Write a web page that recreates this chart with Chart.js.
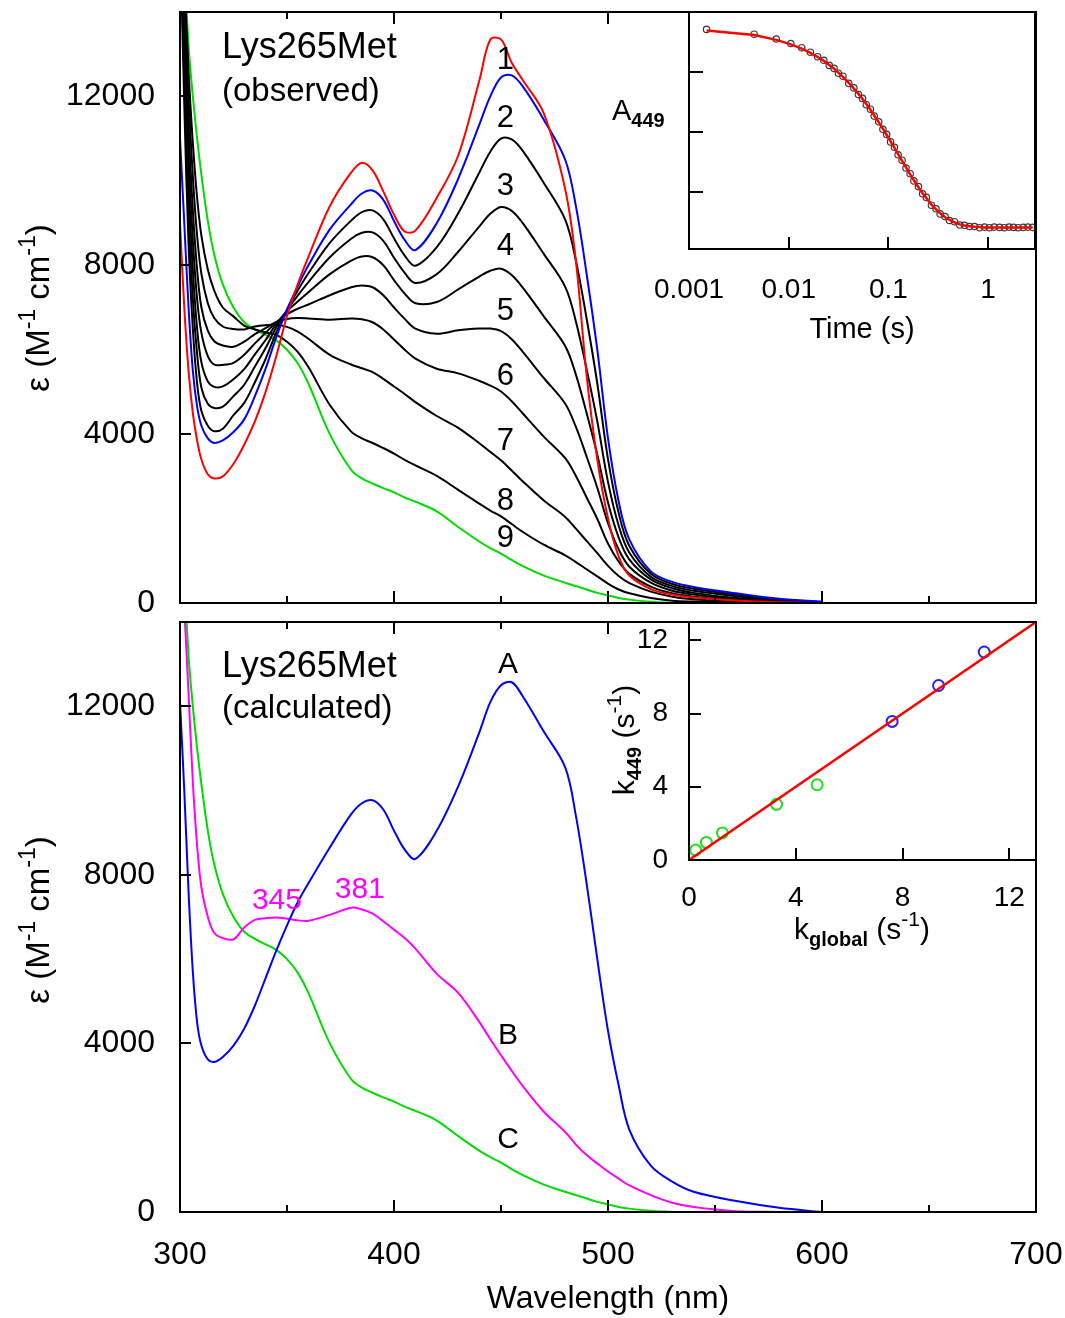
<!DOCTYPE html>
<html>
<head>
<meta charset="utf-8">
<script src="https://cdn.jsdelivr.net/npm/chart.js@4.4.1/dist/chart.umd.min.js"></script>
<style>
  body { margin: 0; background: #fff; }
  #wrap { position: relative; width: 1065px; height: 1318px; }
  canvas { position: absolute; }
</style>
</head>
<body>
<div id="wrap">
  <canvas id="topChart" width="1065" height="640" style="left:0;top:0;width:1065px;height:640px"></canvas>
  <canvas id="bottomChart" width="1065" height="713" style="left:0;top:605px;width:1065px;height:713px"></canvas>
  <canvas id="kineticsChart" width="505" height="360" style="left:560px;top:0;width:505px;height:360px"></canvas>
  <canvas id="rateChart" width="505" height="360" style="left:560px;top:605px;width:505px;height:360px"></canvas>
</div>
<script>
const FONT = '"Liberation Sans", Arial, Helvetica, sans-serif';
const RED = "#ff0000", BLUE = "#0000ff", GREEN = "#00dc00", MAGENTA = "#ff00ff", BLACK = "#000000";

// wavelength grid (nm), shared by every spectrum
const wavelength = [300, 302, 304, 306, 308, 310, 313, 316, 320, 325, 330, 335, 340, 345, 350, 355, 360, 370, 380, 385, 390, 395, 400, 405, 410, 420, 430, 440, 445, 450, 455, 460, 470, 480, 485, 490, 495, 500, 505, 510, 520, 530, 540, 560, 580, 600, 650, 700];

// observed spectra (top panel), epsilon in M-1 cm-1
const observedRed = [9000, 7000, 5500, 4500, 3850, 3400, 3050, 2950, 3000, 3300, 3750, 4300, 5000, 5850, 6800, 7550, 8200, 9400, 10200, 10430, 10250, 9750, 9200, 8800, 8820, 9600, 10600, 12400, 13350, 13350, 12800, 12400, 11600, 9800, 8100, 5400, 3400, 2000, 1100, 650, 330, 200, 130, 60, 20, 0, 0, 0];
const observedBlue = [11000, 9000, 7000, 5500, 4650, 4200, 3900, 3790, 3850, 4050, 4350, 4900, 5550, 6300, 6950, 7500, 8000, 8850, 9450, 9700, 9770, 9550, 9050, 8600, 8360, 9000, 10050, 11350, 12000, 12450, 12500, 12250, 11450, 10500, 9400, 7800, 6000, 3900, 2400, 1500, 750, 500, 380, 230, 100, 30, null, null];
const mid1 = [16000, 11800, 8500, 6500, 5200, 4550, 4200, 4070, 4130, 4450, 4740, 5230, 5780, 6410, 6950, 7400, 7810, 8530, 9060, 9260, 9300, 9090, 8640, 8230, 7990, 8430, 9230, 10210, 10690, 11000, 10980, 10720, 9950, 9080, 8110, 6740, 5200, 3410, 2130, 1350, 690, 450, 340, 200, 85, 25, null, null];
const mid2 = [16500, 12400, 9300, 7200, 5900, 5100, 4720, 4620, 4650, 4900, 5170, 5600, 6040, 6530, 6940, 7280, 7600, 8190, 8630, 8770, 8780, 8580, 8180, 7820, 7580, 7790, 8320, 8930, 9220, 9380, 9290, 9010, 8270, 7490, 6670, 5540, 4300, 2870, 1830, 1190, 620, 400, 290, 160, 65, 20, null, null];
const mid3 = [17000, 13000, 10000, 7900, 6500, 5700, 5250, 5120, 5130, 5300, 5540, 5890, 6230, 6610, 6910, 7140, 7360, 7790, 8110, 8210, 8190, 8000, 7650, 7330, 7100, 7130, 7430, 7740, 7870, 7920, 7770, 7480, 6790, 6090, 5410, 4500, 3510, 2380, 1550, 1030, 560, 350, 240, 120, 50, 15, null, null];
const mid4 = [17000, 13500, 10600, 8600, 7200, 6400, 5850, 5650, 5640, 5690, 5880, 6150, 6400, 6650, 6840, 6970, 7070, 7290, 7480, 7520, 7480, 7290, 7000, 6730, 6500, 6380, 6460, 6500, 6500, 6440, 6250, 5960, 5330, 4720, 4170, 3470, 2730, 1890, 1270, 860, 480, 290, 200, 90, 35, 10, null, null];
const mid5 = [17500, 14000, 11300, 9300, 7900, 7000, 6450, 6200, 6100, 6070, 6190, 6370, 6510, 6660, 6730, 6750, 6740, 6710, 6740, 6720, 6650, 6480, 6240, 6000, 5790, 5550, 5440, 5260, 5150, 5010, 4780, 4500, 3940, 3430, 3010, 2500, 1990, 1410, 980, 690, 390, 230, 150, 60, 22, 7, null, null];
const mid6 = [18000, 14500, 12000, 10100, 8700, 7800, 7100, 6750, 6550, 6490, 6480, 6550, 6580, 6590, 6540, 6430, 6260, 5880, 5650, 5560, 5470, 5310, 5130, 4950, 4760, 4430, 4150, 3780, 3580, 3380, 3140, 2890, 2430, 2040, 1760, 1470, 1180, 880, 640, 470, 270, 150, 90, 30, 9, 3, null, null];
const mid7 = [18000, 15000, 12600, 10900, 9600, 8700, 7900, 7400, 7000, 6790, 6570, 6480, 6410, 6350, 6190, 5950, 5590, 4690, 4060, 3900, 3790, 3670, 3540, 3390, 3260, 3010, 2680, 2350, 2190, 2050, 1870, 1690, 1380, 1130, 970, 800, 630, 460, 320, 230, 120, 56, 35, 13, 4, 1, null, null];

// calculated spectra (bottom panel)
const specA = [12100, 10000, 7600, 5700, 4500, 3950, 3620, 3560, 3680, 3950, 4350, 4900, 5550, 6200, 6800, 7350, 7800, 8650, 9440, 9700, 9770, 9550, 9050, 8600, 8380, 9050, 10100, 11400, 12100, 12500, 12570, 12250, 11400, 10550, 9400, 7800, 6000, 4300, 3000, 1950, 1100, 720, 480, 260, 100, 0, null, null];
const specB = [16000, 14300, 12300, 10200, 8700, 7700, 7000, 6620, 6500, 6470, 6750, 6930, 6970, 6990, 6960, 6920, 6910, 7050, 7220, 7180, 7080, 6900, 6700, 6500, 6250, 5650, 5200, 4500, 4100, 3720, 3350, 3000, 2380, 1900, 1600, 1350, 1150, 960, 790, 630, 400, 220, 120, 20, 0, null, null, null];
const specC = [18000, 15200, 13200, 12000, 11000, 10150, 9050, 8250, 7550, 7000, 6650, 6480, 6350, 6220, 6000, 5680, 5200, 4000, 3150, 2950, 2830, 2720, 2620, 2500, 2400, 2170, 1800, 1450, 1300, 1170, 1020, 880, 650, 480, 400, 320, 240, 180, 120, 80, 30, 0, null, null, null, null, null, null];

// axis ticks
const wlMajor = [400, 500, 600];
const wlMinor = [350, 450, 550, 650];
const wlLabels = [300, 400, 500, 600, 700];
const epsTicks = [0, 4000, 8000, 12000];

// curve labels
const curveLabels = ["1", "2", "3", "4", "5", "6", "7", "8", "9"];
const curveLabelEps = [12850, 11480, 9870, 8450, 6910, 5370, 3830, 2410, 1540];
const curveLabelWl = 452;
const specLabels = ["A", "B", "C"];
const specLabelEps = [12995, 4190, 1704];
const peakLabels = ["345", "381"];
const peakLabelWl = [345.3, 384];
const peakLabelEps = [7385, 7645];

// inset: A449 vs time
const timeS = [0.0015, 0.0045, 0.0075, 0.0105, 0.0135, 0.0165, 0.0195, 0.0225, 0.0255, 0.0285, 0.0315, 0.035, 0.04, 0.045, 0.05, 0.055, 0.06, 0.066, 0.072, 0.08, 0.088, 0.096, 0.105, 0.115, 0.125, 0.137, 0.15, 0.165, 0.18, 0.2, 0.22, 0.24, 0.27, 0.3, 0.33, 0.37, 0.41, 0.46, 0.52, 0.58, 0.65, 0.73, 0.82, 0.92, 1.03, 1.15, 1.3, 1.45, 1.62, 1.8, 2.0, 2.25, 2.5, 2.8];
const a449Obs = [0.1342, 0.1326, 0.1310, 0.1295, 0.1281, 0.1266, 0.1251, 0.1239, 0.1222, 0.1212, 0.1196, 0.1186, 0.1162, 0.1147, 0.1125, 0.1112, 0.1091, 0.1076, 0.1053, 0.1034, 0.1009, 0.0992, 0.0967, 0.0949, 0.0924, 0.0906, 0.0880, 0.0861, 0.0837, 0.0818, 0.0794, 0.0782, 0.0756, 0.0744, 0.0727, 0.0718, 0.0705, 0.0701, 0.0690, 0.0689, 0.0685, 0.0685, 0.0681, 0.0683, 0.0681, 0.0683, 0.0682, 0.0681, 0.0683, 0.0682, 0.0681, 0.0682, 0.0683, 0.0682];
const a449Fit = [0.1338, 0.1323, 0.1307, 0.1292, 0.1278, 0.1264, 0.1250, 0.1237, 0.1223, 0.1211, 0.1198, 0.1184, 0.1164, 0.1145, 0.1127, 0.1110, 0.1093, 0.1074, 0.1055, 0.1032, 0.1011, 0.0990, 0.0969, 0.0947, 0.0926, 0.0904, 0.0882, 0.0859, 0.0839, 0.0816, 0.0796, 0.0780, 0.0758, 0.0742, 0.0729, 0.0716, 0.0707, 0.0699, 0.0692, 0.0688, 0.0686, 0.0684, 0.0683, 0.0682, 0.0682, 0.0682, 0.0682, 0.0682, 0.0682, 0.0682, 0.0682, 0.0682, 0.0682, 0.0682];
const timeTicks = [0.001, 0.01, 0.1, 1];
const a449Ticks = [0.08, 0.10, 0.12];

// inset: k449 vs kglobal
const kGlobalGreen = [0.25, 0.65, 1.25, 3.28, 4.80];
const k449Green = [0.54, 0.96, 1.48, 3.04, 4.11];
const kGlobalBlue = [7.61, 9.35, 11.06];
const k449Blue = [7.57, 9.53, 11.36];
const kFitX = [0, 13];
const kFitY = [0, 13];
const rateTicks = [0, 4, 8, 12];

const font = (size, bold) => (bold ? "bold " : "") + size + "px " + FONT;

// rich text: parts with own font and vertical shift (sub/superscripts)
const drawRich = (ctx, parts, x, y, align, rotate, color) => {
  ctx.save();
  ctx.translate(x, y);
  if (rotate) ctx.rotate(rotate);
  ctx.textBaseline = "middle";
  ctx.textAlign = "left";
  let w = 0;
  for (let p of parts) {
    ctx.font = p.f;
    w += ctx.measureText(p.t).width;
  }
  let cx = align === "left" ? 0 : -w / 2;
  for (let p of parts) {
    ctx.font = p.f;
    ctx.fillStyle = color;
    ctx.fillText(p.t, cx, p.dy || 0);
    cx += ctx.measureText(p.t).width;
  }
  ctx.restore();
};

// fixed axis size, no extra label overflow padding
const fixSize = (w, h) => (s) => {
  if (w !== null) s.width = w;
  if (h !== null) s.height = h;
  s.paddingTop = 0;
  s.paddingBottom = 0;
  s.paddingLeft = 0;
  s.paddingRight = 0;
};

// box round the plot area + inward tick marks
const framePlugin = {
  id: "frame",
  beforeDraw(chart, args, o) {
    if (!o.white) return;
    const a = chart.chartArea;
    chart.ctx.save();
    chart.ctx.fillStyle = "#fff";
    chart.ctx.fillRect(a.left, a.top, a.right - a.left, a.bottom - a.top);
    chart.ctx.restore();
  },
  afterDatasetsDraw(chart, args, o) {
    const { ctx, chartArea: a, scales } = chart;
    ctx.save();
    ctx.strokeStyle = "#000";
    ctx.lineWidth = 2;
    ctx.beginPath();
    const xTick = (v, len) => {
      const p = Math.round(scales.x.getPixelForValue(v));
      ctx.moveTo(p, a.bottom);
      ctx.lineTo(p, a.bottom - len);
      if (o.top) {
        ctx.moveTo(p, a.top);
        ctx.lineTo(p, a.top + len);
      }
    };
    for (let v of o.xMajor || []) xTick(v, o.majorLen || 12);
    for (let v of o.xMinor || []) xTick(v, o.minorLen || 7);
    for (let v of o.yMajor || []) {
      const p = Math.round(scales.y.getPixelForValue(v));
      ctx.moveTo(a.left, p);
      ctx.lineTo(a.left + (o.yLen || 11), p);
    }
    ctx.stroke();
    ctx.strokeRect(a.left, a.top, a.right - a.left, a.bottom - a.top);
    ctx.restore();
  },
};

// text labels, either at page position or at data position
const notesPlugin = {
  id: "notes",
  afterDraw(chart, args, o) {
    const off = o.offset || [0, 0];
    for (let it of o.items || []) {
      let x, y;
      if (it.data) {
        x = chart.scales.x.getPixelForValue(it.data[0]);
        y = chart.scales.y.getPixelForValue(it.data[1]);
      } else {
        x = it.at[0] - off[0];
        y = it.at[1] - off[1];
      }
      drawRich(chart.ctx, it.parts, x, y, it.align, it.rotate, it.color || "#000");
    }
  },
};

const spectrum = (values, color) => ({
  data: wavelength.map((w, i) => ({ x: w, y: values[i] })),
  borderColor: color,
  borderWidth: 2,
  pointRadius: 0,
  fill: false,
  tension: 0.35,
});

const epsTitle = [
  { t: "\u03b5 (M", f: font(33) },
  { t: "-1", f: font(23), dy: -11 },
  { t: " cm", f: font(33) },
  { t: "-1", f: font(23), dy: -11 },
  { t: ")", f: font(33) },
];

const epsAxis = {
  min: 0,
  max: 14000,
  grid: { display: false },
  border: { display: false },
  afterBuildTicks: (s) => { s.ticks = epsTicks.map((v) => ({ value: v })); },
  ticks: { font: { family: FONT, size: 32 }, color: "#000", padding: 17, callback: (v) => String(v) },
  afterFit: fixSize(180, null),
};

const baseOptions = {
  responsive: false,
  animation: false,
  events: [],
};

// Top panel: observed spectra
new Chart(document.getElementById("topChart"), {
  type: "line",
  data: {
    datasets: [
      spectrum(observedRed, RED),
      spectrum(observedBlue, BLUE),
      spectrum(mid1, BLACK),
      spectrum(mid2, BLACK),
      spectrum(mid3, BLACK),
      spectrum(mid4, BLACK),
      spectrum(mid5, BLACK),
      spectrum(mid6, BLACK),
      spectrum(mid7, BLACK),
      spectrum(specC, GREEN),
    ],
  },
  options: {
    ...baseOptions,
    layout: { padding: { top: 12, right: 29, bottom: 0, left: 0 } },
    scales: {
      x: {
        type: "linear", min: 300, max: 700,
        grid: { display: false }, border: { display: false },
        ticks: { display: false },
        afterFit: fixSize(null, 37),
      },
      y: epsAxis,
    },
    plugins: {
      legend: { display: false },
      tooltip: { enabled: false },
      frame: { xMajor: wlMajor, xMinor: wlMinor, yMajor: epsTicks.slice(1), top: true },
      notes: {
        offset: [0, 0],
        items: [
          { at: [222, 48], align: "left", parts: [{ t: "Lys265Met", f: font(36) }] },
          { at: [222, 92], align: "left", parts: [{ t: "(observed)", f: font(33) }] },
          { at: [40, 308], rotate: -Math.PI / 2, parts: epsTitle },
          ...curveLabels.map((t, i) => ({ data: [curveLabelWl, curveLabelEps[i]], parts: [{ t: t, f: font(31) }] })),
        ],
      },
    },
  },
  plugins: [framePlugin, notesPlugin],
});

// Bottom panel: calculated spectra
new Chart(document.getElementById("bottomChart"), {
  type: "line",
  data: {
    datasets: [spectrum(specA, BLUE), spectrum(specB, MAGENTA), spectrum(specC, GREEN)],
  },
  options: {
    ...baseOptions,
    layout: { padding: { top: 17, right: 29, bottom: 0, left: 0 } },
    scales: {
      x: {
        type: "linear", min: 300, max: 700,
        grid: { display: false }, border: { display: false },
        afterBuildTicks: (s) => { s.ticks = wlLabels.map((v) => ({ value: v })); },
        ticks: { font: { family: FONT, size: 32 }, color: "#000", padding: 16, maxRotation: 0, callback: (v) => String(v) },
        title: { display: true, text: "Wavelength (nm)", color: "#000", font: { family: FONT, size: 32 }, padding: { top: 0, bottom: 0 } },
        afterFit: fixSize(null, 106),
      },
      y: epsAxis,
    },
    plugins: {
      legend: { display: false },
      tooltip: { enabled: false },
      frame: { xMajor: wlMajor, xMinor: wlMinor, yMajor: epsTicks.slice(1), top: true },
      notes: {
        offset: [0, 605],
        items: [
          { at: [222, 667], align: "left", parts: [{ t: "Lys265Met", f: font(36) }] },
          { at: [222, 709], align: "left", parts: [{ t: "(calculated)", f: font(33) }] },
          { at: [40, 920], rotate: -Math.PI / 2, parts: epsTitle },
          ...specLabels.map((t, i) => ({ data: [453.3, specLabelEps[i]], parts: [{ t: t, f: font(30) }] })),
          ...peakLabels.map((t, i) => ({ data: [peakLabelWl[i], peakLabelEps[i]], color: MAGENTA, parts: [{ t: t, f: font(30) }] })),
        ],
      },
    },
  },
  plugins: [framePlugin, notesPlugin],
});

// Inset: A449 trace against time (log)
new Chart(document.getElementById("kineticsChart"), {
  type: "line",
  data: {
    datasets: [
      {
        data: timeS.map((t, i) => ({ x: t, y: a449Fit[i] })),
        borderColor: RED, borderWidth: 2.5, pointRadius: 0, fill: false,
      },
      {
        data: timeS.map((t, i) => ({ x: t, y: a449Obs[i] })),
        showLine: false, pointRadius: 3.2, borderWidth: 1.2,
        borderColor: "#3a3a3a", backgroundColor: "rgba(255,255,255,0)",
      },
    ],
  },
  options: {
    ...baseOptions,
    layout: { padding: { top: 12, right: 30, bottom: 0, left: 0 } },
    scales: {
      x: {
        type: "logarithmic", min: 0.001, max: 2.95,
        grid: { display: false }, border: { display: false },
        afterBuildTicks: (s) => { s.ticks = timeTicks.map((v) => ({ value: v })); },
        ticks: { font: { family: FONT, size: 28 }, color: "#000", padding: 16, maxRotation: 0, callback: (v) => String(v) },
        title: { display: true, text: "Time (s)", color: "#000", font: { family: FONT, size: 29 }, padding: { top: 0, bottom: 13 } },
        afterFit: fixSize(null, 111),
      },
      y: {
        min: 0.061, max: 0.14,
        grid: { display: false }, border: { display: false },
        ticks: { display: false },
        afterFit: fixSize(129, null),
      },
    },
    plugins: {
      legend: { display: false },
      tooltip: { enabled: false },
      frame: { white: true, xMajor: timeTicks.slice(1), yMajor: a449Ticks, majorLen: 12, yLen: 14 },
      notes: {
        offset: [560, 0],
        items: [
          { at: [612, 112], align: "left", parts: [{ t: "A", f: font(29) }, { t: "449", f: font(20, true), dy: 9 }] },
        ],
      },
    },
  },
  plugins: [framePlugin, notesPlugin],
});

// Inset: k449 against kglobal
const rateTitle = (sub) => [
  { t: "k", f: font(30) },
  { t: sub, f: font(20, true), dy: 9 },
  { t: " (s", f: font(30) },
  { t: "-1", f: font(21), dy: -11 },
  { t: ")", f: font(30) },
];

new Chart(document.getElementById("rateChart"), {
  type: "scatter",
  data: {
    datasets: [
      {
        data: kFitX.map((x, i) => ({ x: x, y: kFitY[i] })),
        showLine: true, borderColor: RED, borderWidth: 2.5, pointRadius: 0,
      },
      {
        data: kGlobalGreen.map((x, i) => ({ x: x, y: k449Green[i] })),
        pointRadius: 5.5, borderWidth: 2, borderColor: "#22dd22", backgroundColor: "rgba(255,255,255,0)",
      },
      {
        data: kGlobalBlue.map((x, i) => ({ x: x, y: k449Blue[i] })),
        pointRadius: 5.5, borderWidth: 2, borderColor: "#2222ff", backgroundColor: "rgba(255,255,255,0)",
      },
    ],
  },
  options: {
    ...baseOptions,
    layout: { padding: { top: 17, right: 29, bottom: 0, left: 0 } },
    scales: {
      x: {
        type: "linear", min: 0, max: 13,
        grid: { display: false }, border: { display: false },
        afterBuildTicks: (s) => { s.ticks = rateTicks.map((v) => ({ value: v })); },
        ticks: { font: { family: FONT, size: 28 }, color: "#000", padding: 13, maxRotation: 0, callback: (v) => String(v) },
        afterFit: fixSize(null, 105),
      },
      y: {
        min: 0, max: 13,
        grid: { display: false }, border: { display: false },
        afterBuildTicks: (s) => { s.ticks = rateTicks.map((v) => ({ value: v })); },
        ticks: { font: { family: FONT, size: 28 }, color: "#000", padding: 13, callback: (v) => String(v) },
        afterFit: fixSize(129, null),
      },
    },
    plugins: {
      legend: { display: false },
      tooltip: { enabled: false },
      frame: { white: true, xMajor: rateTicks.slice(1), yMajor: rateTicks.slice(1), majorLen: 12, yLen: 12 },
      notes: {
        offset: [560, 605],
        items: [
          { at: [862, 931], parts: rateTitle("global") },
          { at: [626, 740], rotate: -Math.PI / 2, parts: rateTitle("449") },
        ],
      },
    },
  },
  plugins: [framePlugin, notesPlugin],
});
</script>
</body>
</html>
